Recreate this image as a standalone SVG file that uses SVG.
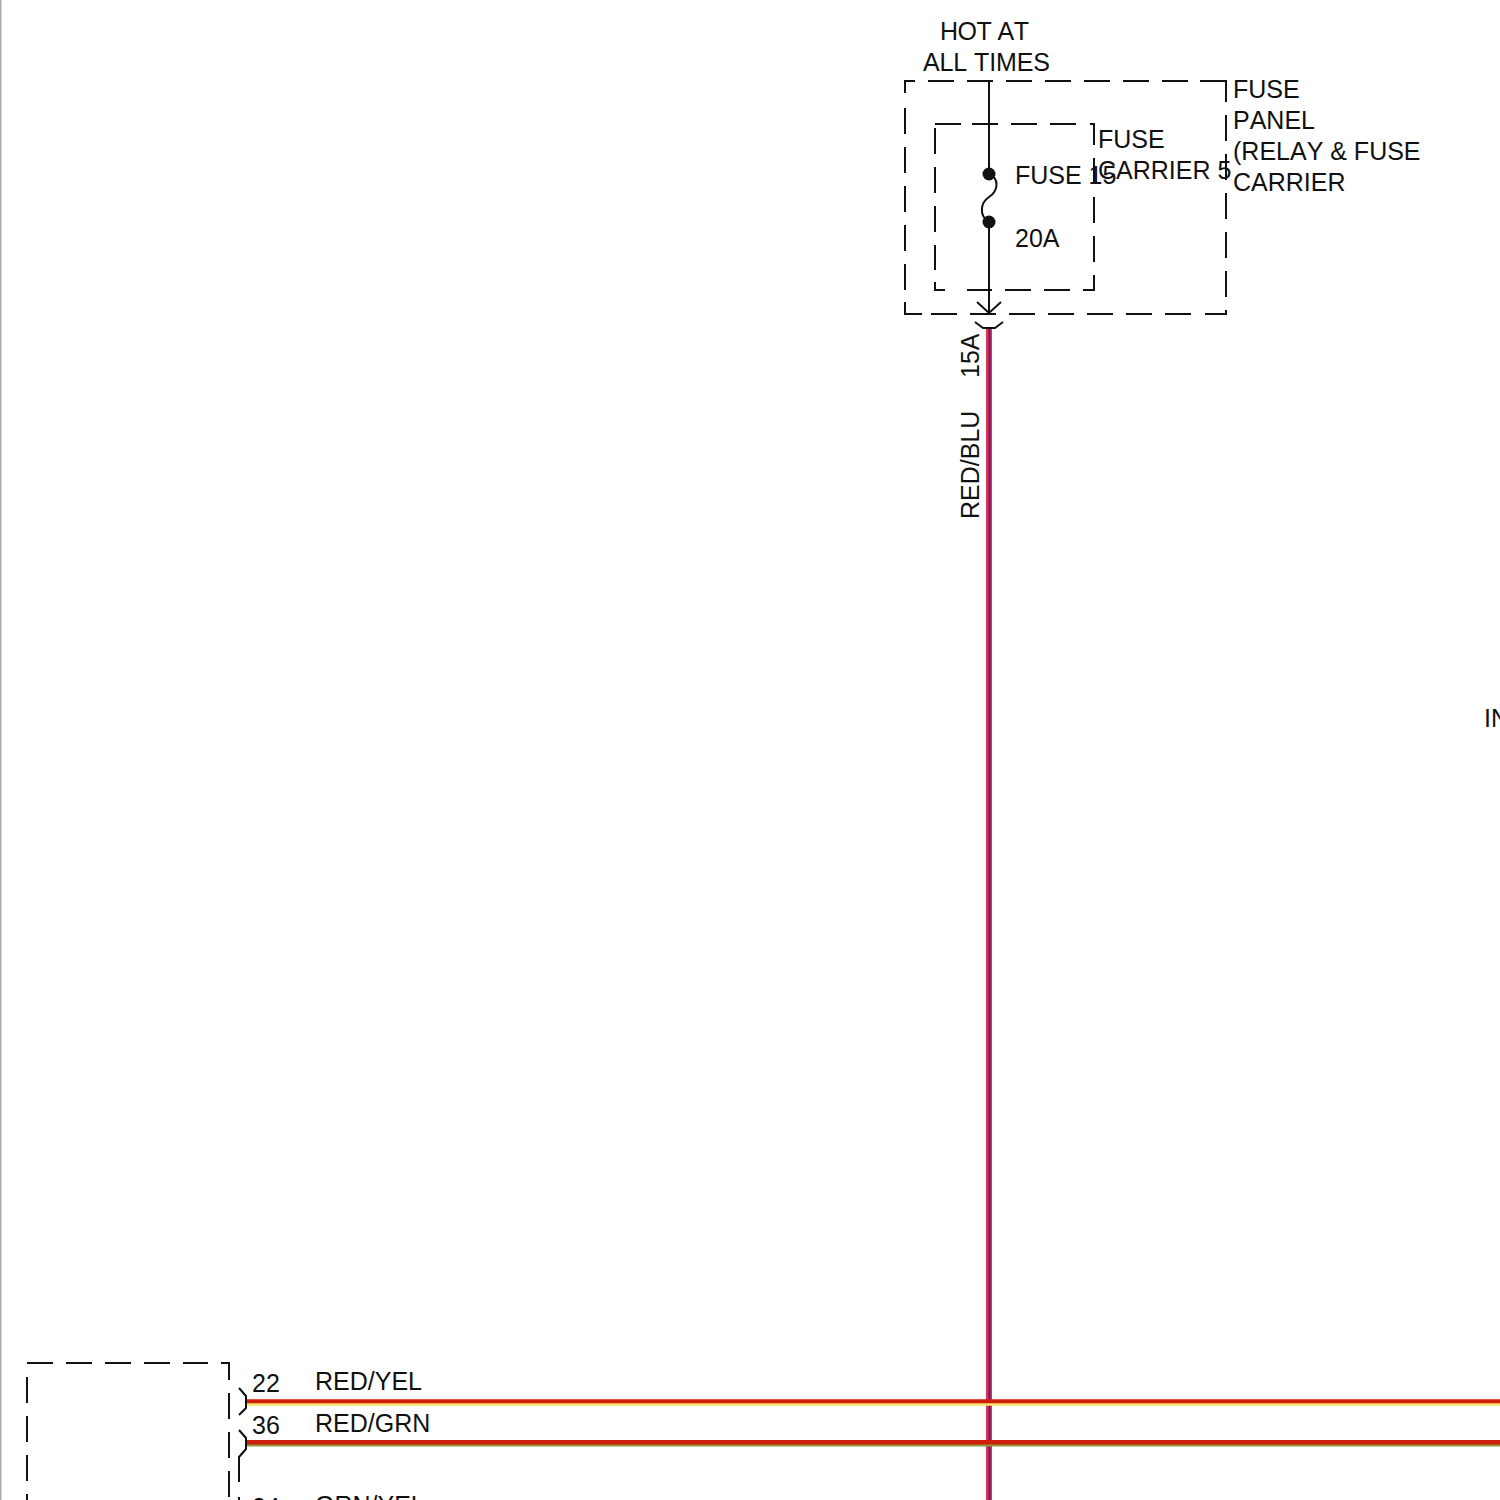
<svg xmlns="http://www.w3.org/2000/svg" width="1500" height="1500" viewBox="0 0 1500 1500">
<style>
text{font-family:"Liberation Sans",Arial,sans-serif;font-size:25px;fill:#111;font-kerning:none}
.k{fill:none;stroke:#111;stroke-width:2}
.d{fill:none;stroke:#111;stroke-width:2;stroke-dasharray:26 13}
</style>
<rect width="1500" height="1500" fill="#fff"/>
<rect x="0" y="0" width="1.5" height="1500" fill="#aaa"/>
<g id="connectors">
<path class="k" d="M989 81V174M989 222V314"/>
<path d="M989 328V1500" fill="none" stroke="#e2304a" stroke-width="6"/>
<path d="M989.500 328V1500" fill="none" stroke="#4a2090" stroke-width="1.800"/>
<path d="M246 1403.500H1500" fill="none" stroke="#f5e66a" stroke-width="4.500"/>
<path d="M246 1401.300H1500" fill="none" stroke="#cf1f0c" stroke-width="4"/>
<path d="M246 1444.500H1500" fill="none" stroke="#8f9a3a" stroke-width="4"/>
<path d="M246 1442.300H1500" fill="none" stroke="#cf1f0c" stroke-width="4.500"/>
</g>
<g id="fuse-panel">
<path class="k" d="M915 81H905V93M922 314H905V302M1205 314H1226V310M1200 81H1226V102"/>
<path class="d" d="M928 81H1200"/>
<path class="d" d="M1226 115V310"/>
<path class="d" d="M1191 314H931"/>
<path class="d" d="M905 108V295"/>
<text x="1233" y="98">FUSE</text>
<text x="1233" y="129">PANEL</text>
<text x="1233" y="160">(RELAY &amp; FUSE</text>
<text x="1233" y="191">CARRIER</text>
</g>
<g id="fuse-carrier">
<path class="k" d="M961 124H935M945 290H935V282M1090 124H1094V145M1083 290H1094V275"/>
<path class="d" d="M972 124H1078"/>
<path class="d" d="M1094 158V263"/>
<path class="d" d="M1070 290H967"/>
<path class="d" d="M935 128V270"/>
<text x="1098" y="148">FUSE</text>
<text x="1098" y="179">CARRIER 5</text>
</g>
<g id="fuse-15">
<circle cx="989" cy="174" r="6.500" fill="#111"/>
<circle cx="989" cy="222" r="6.500" fill="#111"/>
<path class="k" d="M989 174C999 178 999 190 989 197C980 203 979 216 989 222"/>
<text x="1015" y="184">FUSE 15</text>
<text x="1015" y="247">20A</text>
</g>
<g id="hot-at-all-times">
<text x="940" y="40" textLength="89">HOT AT</text>
<text x="923" y="71" textLength="127">ALL TIMES</text>
</g>
<g id="connector-top">
<path class="k" d="M977 302L989 313L1001 302"/>
<path class="k" d="M975 322L983 328H995L1003 322"/>
<text transform="translate(979 378) rotate(-90)">15A</text>
<text transform="translate(979 519) rotate(-90)">RED/BLU</text>
</g>
<g id="left-module">
<path class="k" d="M221 1363H229V1380"/>
<path class="d" d="M27 1363H208"/>
<path class="d" d="M229 1393V1500"/>
<path class="d" d="M27 1377V1500"/>
<path class="k" d="M239 1388L246 1396V1408L239 1415"/>
<path class="k" d="M239 1430L246 1438V1449L239 1457V1482M239 1497V1500"/>
<text x="252" y="1392">22</text>
<text x="252" y="1434">36</text>
<text x="315" y="1390">RED/YEL</text>
<text x="315" y="1432">RED/GRN</text>
<text x="252" y="1516">34</text>
<text x="315" y="1514">GRN/YEL</text>
</g>
<g id="edge-label">
<text x="1484" y="727">IN</text>
</g>
</svg>
